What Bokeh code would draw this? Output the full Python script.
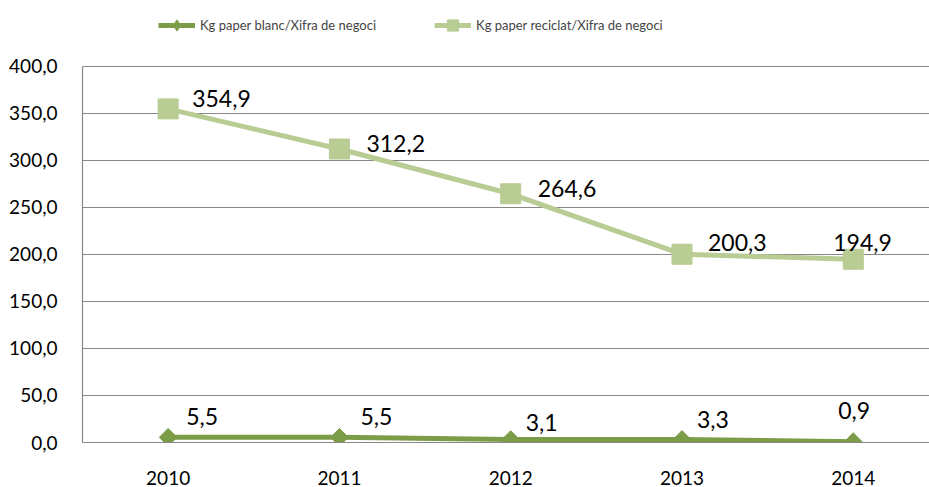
import math
from bokeh.plotting import figure
from bokeh.models import ColumnDataSource, Range1d, FixedTicker, Legend, LegendItem
from bokeh.core.properties import value
from bokeh.embed import file_html
from bokeh.resources import INLINE

years = ["2010", "2011", "2012", "2013", "2014"]
blanc = [5.5, 5.5, 3.1, 3.3, 0.9]
reciclat = [354.9, 312.2, 264.6, 200.3, 194.9]
blanc_labels = ["5,5", "5,5", "3,1", "3,3", "0,9"]
reciclat_labels = ["354,9", "312,2", "264,6", "200,3", "194,9"]
y_ticks = [0, 50, 100, 150, 200, 250, 300, 350, 400]

# label offsets (style, screen px)
blanc_dx = [18, 21, 15, 15, -15]
blanc_dy = [-21, -21, -17, -20, -31]
rec_dx = [24, 27, 27, 26, -20]
rec_dy = [-10, -6, -5, -12, -17]

FONT = "Lato"
DARK = "#7C9C48"
LIGHT = "#B8CC94"

xs = list(range(len(years)))

p = figure(width=929, height=487, output_backend="svg", toolbar_location=None,
           x_range=Range1d(-0.5, 4.445), y_range=Range1d(0, 470.2),
           min_border_left=82, min_border_right=0, min_border_top=0, min_border_bottom=45)
p.outline_line_color = None
p.background_fill_color = "white"

p.xgrid.grid_line_color = None
p.ygrid.grid_line_color = "#878787"
p.ygrid.grid_line_width = 1.2

yax = p.yaxis[0]
yax.ticker = FixedTicker(ticks=y_ticks)
yax.bounds = (0, 400)
yax.major_label_overrides = {t: f"{t},0" for t in y_ticks}
yax.axis_line_color = "#878787"
yax.axis_line_width = 1.2
yax.major_tick_line_color = None
yax.minor_tick_line_color = None
yax.major_label_standoff = 19
yax.major_label_text_font = FONT
yax.major_label_text_font_size = "19px"
yax.major_label_text_color = "black"

xax = p.xaxis[0]
xax.ticker = FixedTicker(ticks=xs)
xax.major_label_overrides = {i: y for i, y in enumerate(years)}
xax.axis_line_color = "#878787"
xax.axis_line_width = 1.2
xax.major_tick_line_color = None
xax.minor_tick_line_color = None
xax.major_label_standoff = 22
xax.major_label_text_font = FONT
xax.major_label_text_font_size = "19px"
xax.major_label_text_color = "black"

src_b = ColumnDataSource(dict(x=xs, y=blanc, t=blanc_labels, dx=blanc_dx, dy=blanc_dy))
src_r = ColumnDataSource(dict(x=xs, y=reciclat, t=reciclat_labels, dx=rec_dx, dy=rec_dy))

lr = p.line("x", "y", source=src_r, line_color=LIGHT, line_width=5)
mr = p.scatter("x", "y", source=src_r, marker="square", size=20, fill_color=LIGHT, line_color=LIGHT)
lb = p.line("x", "y", source=src_b, line_color=DARK, line_width=5)
# diamond glyph (used for the legend; hidden under the rotated squares)
mb_leg = p.scatter("x", "y", source=src_b, marker="diamond", size=14, fill_color=DARK, line_color=DARK)
mb = p.scatter("x", "y", source=src_b, marker="square", angle=math.pi / 4, size=12.5,
               fill_color=DARK, line_color=DARK)

for src in (src_r, src_b):
    p.text("x", "y", text="t", source=src, x_offset="dx", y_offset="dy",
           text_font=value(FONT), text_font_size="23px", text_color="black",
           text_align="left", text_baseline="middle")

legend = Legend(items=[LegendItem(label="Kg paper blanc/Xifra de negoci", renderers=[lb, mb_leg]),
                       LegendItem(label="Kg paper reciclat/Xifra de negoci", renderers=[lr, mr])],
                location=(76, 403), orientation="horizontal",
                glyph_width=37, glyph_height=28, spacing=58, label_standoff=5,
                label_text_font=FONT, label_text_font_size="13px",
                border_line_color=None, background_fill_alpha=0, padding=0, margin=0)
p.add_layout(legend, "center")

open("out.html", "w").write(file_html(p, INLINE))
